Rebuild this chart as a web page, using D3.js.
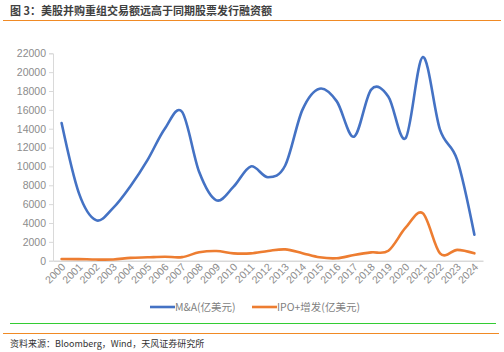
<!DOCTYPE html>
<html lang="zh">
<head>
    <meta charset="UTF-8">
    <title>美股并购重组交易额远高于同期股票发行融资额</title>
    <script src="https://d3js.org/d3.v7.min.js"></script>
    <style>
        body {
            margin: 0;
            background: #fff;
            font-family: "Noto Sans CJK SC", "Noto Sans", sans-serif;
        }
        svg { display: block; }
    </style>
</head>
<body>
    <svg id="chart" width="504" height="352"></svg>

    <script>
        // data
        const years = ["2000","2001","2002","2003","2004","2005","2006","2007","2008","2009","2010","2011","2012",
                       "2013","2014","2015","2016","2017","2018","2019","2020","2021","2022","2023","2024"];
        const mnaValues = [14600, 7200, 4300, 5600, 7900, 10700, 14000, 15800, 9400, 6400, 7850, 10000, 8850,
                           10100, 16000, 18250, 16900, 13150, 18150, 17400, 13000, 21600, 13900, 10700, 2750];
        const ipoValues = [180, 170, 120, 130, 300, 360, 420, 380, 890, 1030, 780, 780, 1030,
                           1200, 800, 360, 260, 600, 880, 1060, 3500, 5030, 780, 1150, 780];
        const yTicks = d3.range(0, 22001, 2000);
        const seriesNames = ["M&A(亿美元)", "IPO+增发(亿美元)"];
        const colors = ["#4472c4", "#ed7d31"];

        const svg = d3.select("#chart");
        const plotLeft = 53, plotRight = 483, plotTop = 53.3, plotBottom = 260.7;

        // header
        svg.append("text")
            .attr("x", 10).attr("y", 15)
            .attr("font-size", 11).attr("font-weight", "bold")
            .attr("fill", "#404040")
            .text("图 3：美股并购重组交易额远高于同期股票发行融资额");
        svg.append("line")
            .attr("x1", 3).attr("x2", 501).attr("y1", 20.5).attr("y2", 20.5)
            .attr("stroke", "#f08a24").attr("stroke-width", 1);

        const x = d3.scalePoint().domain(years).range([plotLeft, plotRight]).padding(0.5);
        const y = d3.scaleLinear().domain([0, 22000]).range([plotBottom, plotTop]);

        // y axis
        const yAxis = svg.append("g")
            .attr("transform", `translate(${plotLeft},0)`)
            .call(d3.axisLeft(y).tickValues(yTicks).tickFormat(d3.format("d")).tickSize(4).tickPadding(3));
        yAxis.select(".domain").attr("stroke", "#d9d9d9");
        yAxis.selectAll(".tick line").attr("stroke", "#d9d9d9");
        yAxis.selectAll("text")
            .attr("font-family", "'Liberation Sans', Arial, sans-serif")
            .attr("font-size", 10.5).attr("fill", "#8c8c8c");

        // x axis
        const xAxis = svg.append("g")
            .attr("transform", `translate(0,${plotBottom})`)
            .call(d3.axisBottom(x).tickSize(0).tickPadding(0));
        xAxis.select(".domain").attr("stroke", "#d9d9d9").attr("stroke-width", 1.5);
        xAxis.selectAll("text")
            .attr("font-family", "'Liberation Sans', Arial, sans-serif")
            .attr("font-size", 10.5).attr("fill", "#8c8c8c")
            .attr("text-anchor", "end")
            .attr("dy", 0)
            .attr("transform", "translate(4,7) rotate(-45)");

        // lines
        const line = d3.line()
            .x((d, i) => x(years[i]))
            .y(d => y(d))
            .curve(d3.curveCardinal.tension(0));

        [mnaValues, ipoValues].forEach((vals, i) => {
            svg.append("path")
                .datum(vals)
                .attr("d", line)
                .attr("fill", "none")
                .attr("stroke", colors[i])
                .attr("stroke-width", 2.6)
                .attr("stroke-linecap", "round");
        });

        // legend
        const legendX = [150, 252];
        seriesNames.forEach((name, i) => {
            const g = svg.append("g").attr("transform", `translate(${legendX[i]},307)`);
            g.append("line")
                .attr("x1", 0).attr("x2", 25)
                .attr("stroke", colors[i]).attr("stroke-width", 2.6);
            g.append("text")
                .attr("x", 25).attr("y", 3.5)
                .attr("font-size", 10.5).attr("fill", "#7f7f7f")
                .text(name);
        });

        // footer
        svg.append("line")
            .attr("x1", 10).attr("x2", 496).attr("y1", 323.5).attr("y2", 323.5)
            .attr("stroke", "#33cc33").attr("stroke-width", 1);
        svg.append("line")
            .attr("x1", 3).attr("x2", 499).attr("y1", 333.5).attr("y2", 333.5)
            .attr("stroke", "#f08a24").attr("stroke-width", 1);
        svg.append("text")
            .attr("x", 10).attr("y", 347)
            .attr("font-size", 9).attr("fill", "#333")
            .text("资料来源：Bloomberg，Wind，天风证券研究所");
    </script>
</body>
</html>
